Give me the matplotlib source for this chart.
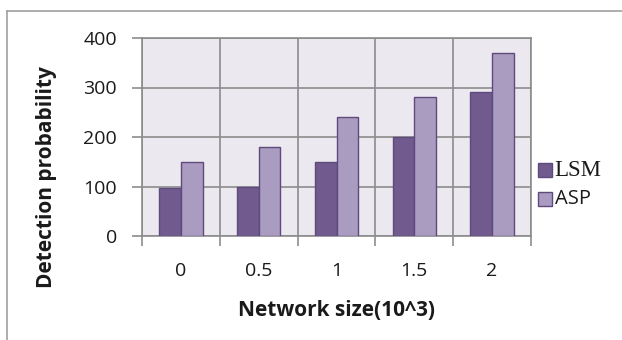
import matplotlib
matplotlib.use("Agg")
import matplotlib.pyplot as plt
import numpy as np
from matplotlib.patches import Rectangle
from matplotlib.lines import Line2D

# Data
categories = ["0", "0.5", "1", "1.5", "2"]
lsm = [97, 100, 150, 200, 290]
asp = [150, 180, 240, 280, 370]
yticks = [0, 100, 200, 300, 400]

lsm_color = "#715a8e"
asp_color = "#aa9bc0"
edge_color = "#5e4a7c"
grid_color = "#8c8c8c"
bg_color = "#ebe8ef"
text_color = "#1a1a1a"

W, H = 622, 340
fig = plt.figure(figsize=(W / 100, H / 100), dpi=100)
fig.patch.set_facecolor("white")

# Outer chart frame
fig.add_artist(Line2D([7 / W, 7 / W], [0, 1 - 11 / H], transform=fig.transFigure,
                      color="#a0a0a0", lw=1.2))
fig.add_artist(Line2D([7 / W, 1], [1 - 11 / H, 1 - 11 / H], transform=fig.transFigure,
                      color="#a0a0a0", lw=1.2))

left, right, top, bottom = 142, 531, 38, 236
ax = fig.add_axes([left / W, 1 - bottom / H, (right - left) / W, (bottom - top) / H])
ax.set_facecolor(bg_color)

x = np.arange(len(categories))
bw = 0.28
ax.bar(x - bw / 2, lsm, bw, color=lsm_color, edgecolor=edge_color, linewidth=1.0, zorder=3, label="LSM")
ax.bar(x + bw / 2, asp, bw, color=asp_color, edgecolor=edge_color, linewidth=1.0, zorder=3, label="ASP")

ax.set_xlim(-0.5, len(categories) - 0.5)
ax.set_ylim(0, 400)

ax.set_yticks(yticks)
ax.set_yticklabels([str(v) for v in yticks])
ax.set_xticks(x)
ax.set_xticklabels(categories)
ax.set_xticks(np.arange(len(categories) + 1) - 0.5, minor=True)

ax.tick_params(axis="x", which="major", length=0, pad=19)
ax.tick_params(axis="x", which="minor", length=7, width=1.2, color=grid_color, direction="out")
ax.tick_params(axis="y", which="major", length=7, width=1.2, color=grid_color, direction="out", pad=11)

for lbl in ax.get_xticklabels() + ax.get_yticklabels():
    lbl.set_fontfamily("Open Sans")
    lbl.set_fontsize(14)
    lbl.set_color(text_color)

ax.grid(True, axis="y", color=grid_color, lw=1.2, zorder=1)
ax.grid(True, axis="x", which="minor", color=grid_color, lw=1.2, zorder=1)
for s in ax.spines.values():
    s.set_color(grid_color)
    s.set_linewidth(1.2)

fig.text(337 / W, 1 - 311 / H, "Network size(10^3)", ha="center", va="center",
         fontfamily="Open Sans", fontweight="bold", fontsize=15, color=text_color)
fig.text(47 / W, 1 - 177 / H, "Detection probability", ha="center", va="center", rotation=90,
         fontfamily="Open Sans", fontweight="bold", fontsize=15, color=text_color)

# Legend
fig.add_artist(Rectangle((538 / W, 1 - 177 / H), 14 / W, 14 / H, transform=fig.transFigure,
                         facecolor=lsm_color, edgecolor=edge_color, lw=1.0))
fig.add_artist(Rectangle((538 / W, 1 - 206 / H), 14 / W, 14 / H, transform=fig.transFigure,
                         facecolor=asp_color, edgecolor=edge_color, lw=1.0))
fig.text(554 / W, 1 - 171 / H, "LSM", ha="left", va="center",
         fontfamily="Liberation Serif", fontsize=16.5, color=text_color)
fig.text(555 / W, 1 - 199 / H, "ASP", ha="left", va="center",
         fontfamily="Open Sans", fontsize=14.5, color=text_color)

fig.savefig("out.png", dpi=100)
